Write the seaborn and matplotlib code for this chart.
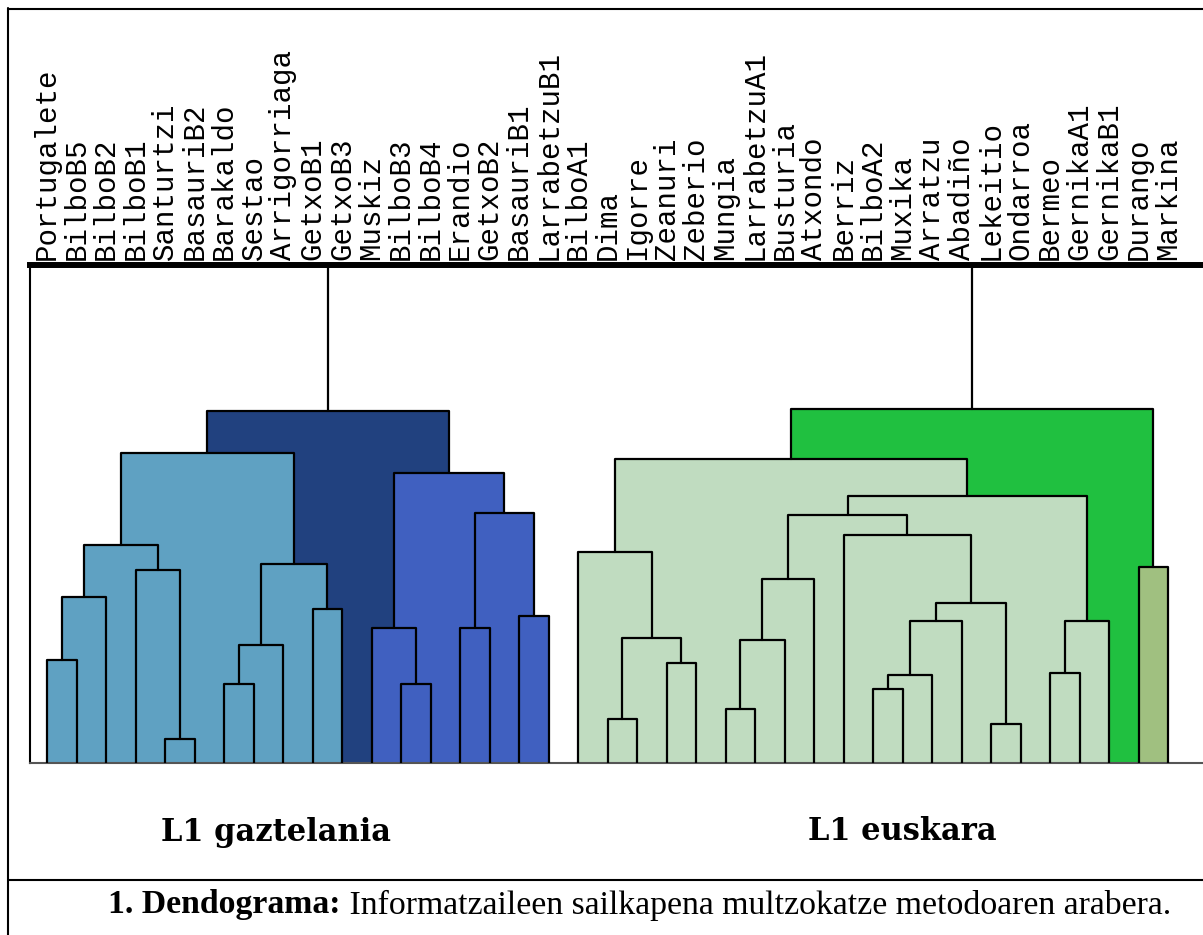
import numpy as np
import pandas as pd
import matplotlib
matplotlib.use("Agg")
import matplotlib.pyplot as plt
from matplotlib.lines import Line2D
import seaborn as sns

# ---------------- data ----------------
leaf_labels = ["Portugalete", "BilboB5", "BilboB2", "BilboB1", "Santurtzi", "BasauriB2",
               "Barakaldo", "Sestao", "Arrigorriaga", "GetxoB1", "GetxoB3", "Muskiz",
               "BilboB3", "BilboB4", "Erandio", "GetxoB2", "BasauriB1", "LarrabetzuB1",
               "BilboA1", "Dima", "Igorre", "Zeanuri", "Zeberio", "Mungia", "LarrabetzuA1",
               "Busturia", "Atxondo", "Berriz", "BilboA2", "Muxika", "Arratzu", "Abadiño",
               "Lekeitio", "Ondarroa", "Bermeo", "GernikaA1", "GernikaB1", "Durango", "Markina"]

# linkage-style merges: ids 0..38 are leaves, merge k gets id 39+k
merge_left = [0, 39, 4, 3, 40, 6, 44, 9, 45, 43, 12, 11, 14, 16, 51, 50, 48,
              19, 21, 56, 18, 23, 60, 61, 28, 63, 64, 32, 65, 27, 62, 34, 70, 69, 59, 37, 73, 55]
merge_right = [1, 2, 5, 41, 42, 7, 8, 10, 46, 47, 13, 49, 15, 17, 52, 53, 54,
               20, 22, 57, 58, 24, 25, 26, 29, 30, 31, 33, 66, 67, 68, 35, 36, 71, 72, 38, 74, 75]
merge_height = [20.7, 33.4, 4.8, 38.8, 43.8, 15.9, 23.6, 30.9, 40.0, 62.2, 15.9, 27.1, 27.1, 29.5,
                50.3, 58.2, 70.7,
                8.8, 20.1, 25.2, 42.4, 10.8, 24.6, 36.9, 14.8, 17.7, 28.6, 7.8, 32.1, 45.8, 49.7,
                18.1, 28.6, 53.6, 61.0, 39.4, 71.1, 100.0]
merge_group = ["lightblue"] * 10 + ["blue"] * 6 + ["navy"] + ["lightgreen"] * 18 + ["olive", "green", "root"]

group_labels = ["L1 gaztelania", "L1 euskara"]
caption_bold = "1. Dendograma:"
caption_text = "Informatzaileen sailkapena multzokatze metodoaren arabera."

# ---------------- style ----------------
group_colors = {"lightblue": "#5FA1C2", "blue": "#4060C0", "navy": "#21417F",
                "lightgreen": "#C0DCC0", "green": "#20C040", "olive": "#A0C080", "root": None}

sns.set_theme(style="white")
plt.rcParams["font.family"] = ["DejaVu Sans"]
plt.rcParams["text.color"] = "black"

W, H = 1203, 935
fig = plt.figure(figsize=(W / 100, H / 100), dpi=100)
fig.patch.set_facecolor("white")

# axes placed in pixel terms
ax_left_px, ax_top_px, ax_bot_px = 30.5, 265, 763
ax = fig.add_axes([ax_left_px / W, (H - ax_bot_px) / H, 1 - ax_left_px / W, (ax_bot_px - ax_top_px) / H])

n = len(leaf_labels)
pos = {i: float(i) for i in range(n)}
hgt = {i: 0.0 for i in range(n)}
links = []
for k, (a, b, h, g) in enumerate(zip(merge_left, merge_right, merge_height, merge_group)):
    cid = n + k
    xa, xb = pos[a], pos[b]
    pos[cid] = (xa + xb) / 2
    hgt[cid] = h
    links.append(dict(link=k, xl=xa, xr=xb, hl=hgt[a], hr=hgt[b], h=h, group=g))
links_df = pd.DataFrame(links)

# filled regions under each link, tallest first
for _, r in links_df.sort_values("h", ascending=False).iterrows():
    c = group_colors[r.group]
    if c is None:
        continue
    ax.bar(r.xl, r.h, width=r.xr - r.xl, align="edge", color=c, edgecolor="none",
           linewidth=0, zorder=1)

# dendrogram outlines
rows = []
for _, r in links_df.iterrows():
    for j, (x, y) in enumerate([(r.xl, r.hl), (r.xl, r.h), (r.xr, r.h), (r.xr, r.hr)]):
        rows.append(dict(link=r.link, order=j, x=x, y=y))
lines_df = pd.DataFrame(rows)
sns.lineplot(data=lines_df, x="x", y="y", units="link", estimator=None, sort=False,
             color="black", linewidth=1.6, legend=False, ax=ax, zorder=3)

x0 = (ax_left_px - 47) / 29.5
x1 = (W - 47) / 29.5
ax.set_xlim(x0, x1)
ax.set_ylim(0, 100)
ax.set_xlabel("")
ax.set_ylabel("")
ax.set_yticks([])

ax.xaxis.tick_top()
ax.set_xticks(range(n))
ax.set_xticklabels(leaf_labels, rotation=90, fontfamily="Liberation Mono", fontsize=21, color="black")
ax.tick_params(axis="x", length=0, pad=3.5)

ax.spines["right"].set_visible(False)
ax.spines["top"].set_linewidth(4.3)
ax.spines["top"].set_color("black")
ax.spines["left"].set_linewidth(1.5)
ax.spines["left"].set_color("black")
ax.spines["bottom"].set_linewidth(1.5)
ax.spines["bottom"].set_color("#555555")

# group labels
fig.text(276 / W, (H - 832) / H, group_labels[0], ha="center", va="center", color="black",
         fontfamily="DejaVu Serif", fontweight="bold", fontsize=22)
fig.text(902 / W, (H - 832) / H, group_labels[1], ha="center", va="center", color="black",
         fontfamily="DejaVu Serif", fontweight="bold", fontsize=22)

# caption: bold part followed by regular part, same size, fitted to span 108..1172 px
cap_y = (H - 905) / H
fs0 = 20
t_bold = fig.text(108 / W, cap_y, caption_bold, ha="left", va="center", color="black",
                  fontfamily="Liberation Serif", fontweight="bold", fontsize=fs0)
t_reg = fig.text(0.5, cap_y, " " + caption_text, ha="left", va="center", color="black",
                 fontfamily="Liberation Serif", fontsize=fs0)
fig.canvas.draw()
rend = fig.canvas.get_renderer()
wb = t_bold.get_window_extent(rend).width
wr = t_reg.get_window_extent(rend).width
fs = fs0 * (1172 - 108) / (wb + wr)
t_bold.set_fontsize(fs)
t_reg.set_fontsize(fs)
fig.canvas.draw()
wb = t_bold.get_window_extent(rend).width
t_reg.set_x((108 + wb) / W)

# frame lines
lw_frame = 1.5
fig.add_artist(Line2D([8 / W, 8 / W], [0, (H - 8) / H], transform=fig.transFigure, color="black", lw=lw_frame))
fig.add_artist(Line2D([8 / W, 1], [(H - 8.5) / H, (H - 8.5) / H], transform=fig.transFigure, color="black", lw=lw_frame))
fig.add_artist(Line2D([8 / W, 1], [(H - 880) / H, (H - 880) / H], transform=fig.transFigure, color="black", lw=lw_frame))

fig.savefig("out.png", dpi=100, facecolor="white")
